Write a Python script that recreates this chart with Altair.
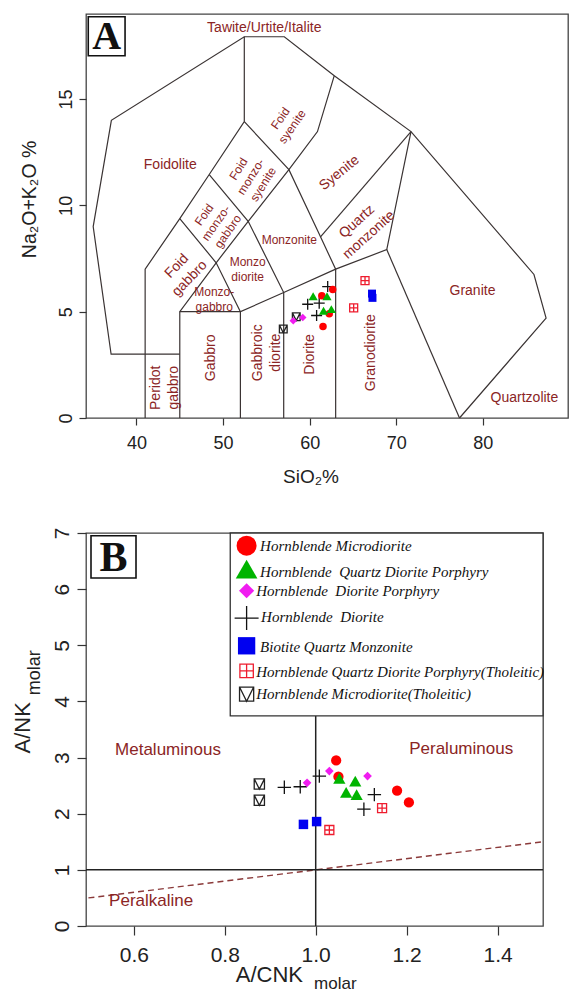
import altair as alt
import pandas as pd

# ---------------------------------------------------------------------------
# Panel A - TAS classification of plutonic rocks (SiO2 vs Na2O+K2O, wt.%)
# ---------------------------------------------------------------------------
SIO2_TICKS = [40, 50, 60, 70, 80, 90]
ALK_TICKS = [0, 5, 10, 15]

# field boundaries as (SiO2, Na2O+K2O) vertices
BND_OUTER = [(45, 3), (37.07, 3.0), (35.0, 9.0), (37.1, 14.0), (52.45, 17.93),
             (57.07, 17.93), (62.84, 16.1), (71.7, 13.47), (85.9, 6.75),
             (87.3, 4.7), (77.3, 0)]
BND_FOIDOLITE = [(41, 0), (41, 7), (45, 9.38), (48.4, 11.45), (52.45, 13.94),
                 (52.45, 17.93)]
BND_FOID_SYENITE = [(45, 0), (45, 5), (49.2, 7.3), (52.9, 9.25), (57.6, 11.68),
                    (60.9, 13.47), (62.84, 16.1)]
BND_GABBRO = [(45, 5), (52, 5)]
BND_DIORITE_TOP = [(52, 0), (52, 5), (57, 5.9), (63, 7), (68.9, 7.92),
                   (71.7, 13.47)]
BND_MONZODIORITE = [(57, 0), (57, 5.9), (52.9, 9.25), (48.4, 11.45)]
BND_MONZOGABBRO = [(45, 9.38), (49.2, 7.3), (52, 5)]
BND_MONZONITE = [(52.45, 13.94), (57.6, 11.68), (61.25, 8.52), (63, 7), (63, 0)]
BND_QTZ_MONZONITE = [(71.7, 13.47), (61.25, 8.52)]
BND_GRANODIORITE = [(68.9, 7.92), (77.3, 0)]

TAS_BOUNDARIES = [BND_OUTER, BND_FOIDOLITE, BND_FOID_SYENITE, BND_GABBRO,
                  BND_DIORITE_TOP, BND_MONZODIORITE, BND_MONZOGABBRO,
                  BND_MONZONITE, BND_QTZ_MONZONITE, BND_GRANODIORITE]

FIELD_NAMES = ["Tawite/Urtite/Italite", "Foidolite", "Foid\nsyenite",
               "Foid\nmonzo-\nsyenite", "Syenite", "Foid\nmonzo-\ngabbro",
               "Foid\ngabbro", "Monzonite", "Monzo\ndiorite", "Monzo-\ngabbro",
               "Quartz\nmonzonite", "Peridot\ngabbro", "Gabbro",
               "Gabbroic\ndiorite", "Diorite", "Granodiorite", "Granite",
               "Quartzolite"]

# sample compositions (SiO2, Na2O+K2O)
TAS_HBL_MICRODIORITE = [(62.66, 6.04), (61.4, 5.75), (62.26, 4.9), (61.54, 4.3)]
TAS_HBL_QTZ_DIORITE_PORPH = [(60.4, 5.73), (62.0, 5.73), (61.6, 5.04), (62.5, 5.12)]
TAS_HBL_DIORITE_PORPH = [(58.1, 4.57), (59.2, 4.73)]
TAS_HBL_DIORITE = [(62.08, 6.18), (59.77, 5.35), (61.1, 5.4), (60.8, 4.82)]
TAS_BIO_QTZ_MONZONITE = [(67.2, 5.85), (67.25, 5.65)]
TAS_HBL_QDP_THOLEIITIC = [(66.39, 6.46), (65.08, 5.18)]
TAS_HBL_MICRODIORITE_THOLEIITIC = [(56.95, 4.19), (58.45, 4.76)]

# ---------------------------------------------------------------------------
# Panel B - Shand index (A/CNK vs A/NK, molar)
# ---------------------------------------------------------------------------
ACNK_TICKS = [0.6, 0.8, 1.0, 1.2, 1.4]
ANK_TICKS = [0, 1, 2, 3, 4, 5, 6, 7]

SHAND_HBL_MICRODIORITE = [(1.045, 2.95), (1.05, 2.66), (1.179, 2.41), (1.205, 2.2)]
SHAND_HBL_QTZ_DIORITE_PORPH = [(1.052, 2.63), (1.087, 2.58), (1.067, 2.38), (1.09, 2.34)]
SHAND_HBL_DIORITE_PORPH = [(0.981, 2.55), (1.030, 2.76), (1.114, 2.67)]
SHAND_HBL_DIORITE = [(0.931, 2.47), (0.966, 2.48), (1.008, 2.67), (1.129, 2.34), (1.106, 2.08)]
SHAND_BIO_QTZ_MONZONITE = [(0.973, 1.81), (1.002, 1.86)]
SHAND_HBL_QDP_THOLEIITIC = [(1.146, 2.10), (1.030, 1.71)]
SHAND_HBL_MICRODIORITE_THOLEIITIC = [(0.876, 2.53), (0.876, 2.24)]

SHAND_DIVIDE = [(0.5, 0.5), (1.5, 1.5)]        # peralkaline / metaluminous trend
REGION_NAMES = ["Metaluminous", "Peraluminous", "Peralkaline"]

SERIES = ["Hornblende Microdiorite",
          "Hornblende\u00a0 Quartz Diorite Porphyry",
          "Hornblende\u00a0 Diorite Porphyry",
          "Hornblende\u00a0 Diorite",
          "Biotite Quartz Monzonite",
          "Hornblende Quartz Diorite Porphyry(Tholeitic)",
          "Hornblende Microdiorite(Tholeitic)"]

TAS_SAMPLES = [TAS_HBL_MICRODIORITE, TAS_HBL_QTZ_DIORITE_PORPH,
               TAS_HBL_DIORITE_PORPH, TAS_HBL_DIORITE, TAS_BIO_QTZ_MONZONITE,
               TAS_HBL_QDP_THOLEIITIC, TAS_HBL_MICRODIORITE_THOLEIITIC]
SHAND_SAMPLES = [SHAND_HBL_MICRODIORITE, SHAND_HBL_QTZ_DIORITE_PORPH,
                 SHAND_HBL_DIORITE_PORPH, SHAND_HBL_DIORITE,
                 SHAND_BIO_QTZ_MONZONITE, SHAND_HBL_QDP_THOLEIITIC,
                 SHAND_HBL_MICRODIORITE_THOLEIITIC]

# ---------------------------------------------------------------------------
# styling and layout
# ---------------------------------------------------------------------------
SANS = "Liberation Sans"
SERIF = "Liberation Serif"
FIELD_RED = "#8B2525"
LINE_COL = "#3a3333"

PLUS = "M-1,0H1M0,-1V1"
GRID_BOX = "M-1,-1H1V1H-1Z M0,-1V1 M-1,0H1"
VEE_BOX = "M-1,-1H1V1H-1Z M-1,-1L0,1L1,-1"

# per series: shape, colour, filled, size in A, size in B, size in legend
SYMBOLS = [("circle", "#FF0000", True, 56, 105, 400),
           ("triangle-up", "#00B400", True, 85, 150, 470),
           ("diamond", "#F01CF0", True, 56, 75, 230),
           (PLUS, "#111111", False, 121, 180, 576),
           ("square", "#0000F0", True, 64, 90, 300),
           (GRID_BOX, "#EE1C2E", False, 64, 81, 180),
           (VEE_BOX, "#222222", False, 60, 105, 200)]

# field-label anchors (block centres), rotation and size class
FIELD_POS = [(54.76, 18.36), (43.9, 11.88), (57.3, 13.9), (53.2, 11.35),
             (63.42, 11.52), (49.18, 9.17), (45.4, 6.85), (57.65, 8.39),
             (52.84, 6.98), (48.98, 5.57), (66.15, 8.92), (43.3, 1.42),
             (48.6, 2.83), (55.1, 3.07), (60.07, 2.99), (67.1, 3.07),
             (78.8, 5.96), (84.8, 0.95)]
FIELD_ANGLE = [0, 0, 305, 302, 321, 305, 314, 0, 0, 0, 318, 270, 270, 270,
               270, 270, 0, 0]
FIELD_BIG = [True, True, False, False, True, False, True, False, False, False,
             True, True, True, True, True, True, True, True]

REGION_POS = [(0.675, 3.14), (1.32, 3.155), (0.638, 0.446)]

LEG_BOX = (0.812, 1.5, 3.743, 7.0)
LEG_SYM_X = 0.848
LEG_SYM_Y = [6.774, 6.358, 5.971, 5.484, 4.991, 4.545, 4.130]
LEG_TXT_X = [0.8776, 0.8776, 0.8690, 0.8798, 0.8776, 0.8690, 0.8690]
LEG_TXT_Y = [6.774, 6.298, 5.971, 5.496, 4.961, 4.533, 4.130]


def polylines(lines):
    rows = []
    for k, pts in enumerate(lines):
        for i, (x, y) in enumerate(pts):
            rows.append({"line": k, "i": i, "x": x, "y": y})
    return pd.DataFrame(rows)


def samples(groups, size_idx):
    rows = []
    for k, pts in enumerate(groups):
        shape, color, filled, *sizes = SYMBOLS[k]
        for x, y in pts:
            rows.append({"series": SERIES[k], "x": x, "y": y, "shape": shape,
                         "color": color, "filled": filled,
                         "size": sizes[size_idx]})
    return pd.DataFrame(rows)


def axis(values, size, pad, tick, vertical=False, fmt=None):
    kw = dict(values=values, title=None, grid=False, domain=False,
              tickSize=tick, tickWidth=1.2, tickColor="#333333",
              labelFont=SANS, labelFontSize=size, labelColor="#222222",
              labelPadding=pad, labelFlush=False, labelOverlap=False)
    if vertical:
        kw.update(labelAngle=270, labelAlign="center", labelBaseline="bottom")
    if fmt:
        kw["format"] = fmt
    return alt.Axis(**kw)


def point_layers(df, X, Y):
    filled = alt.Chart(df[df["filled"]]).mark_point(
        filled=True, opacity=1, strokeWidth=0).encode(
        x=X, y=Y,
        shape=alt.Shape("shape:N", scale=None),
        color=alt.Color("color:N", scale=None),
        size=alt.Size("size:Q", scale=None))
    hollow = alt.Chart(df[~df["filled"]]).mark_point(
        filled=False, opacity=1, strokeWidth=1.3).encode(
        x=X, y=Y,
        shape=alt.Shape("shape:N", scale=None),
        color=alt.Color("color:N", scale=None),
        size=alt.Size("size:Q", scale=None))
    return [hollow, filled]


def text_df(texts, pos, **extra):
    d = {"t": texts, "x": [p[0] for p in pos], "y": [p[1] for p in pos]}
    d.update(extra)
    return pd.DataFrame(d)


# ------------------------------- panel A -----------------------------------
scA_x = alt.Scale(domain=[34.17, 89.83], nice=False, zero=False)
scA_y = alt.Scale(domain=[0, 19], nice=False, zero=False)
XA = alt.X("x:Q", scale=scA_x, axis=axis(SIO2_TICKS, 18, 9, 7))
YA = alt.Y("y:Q", scale=scA_y, axis=axis(ALK_TICKS, 18, 4, 7, vertical=True))
XA2 = alt.X2("x2:Q")
YA2 = alt.Y2("y2:Q")

linesA = alt.Chart(polylines(TAS_BOUNDARIES)).mark_line(
    color=LINE_COL, strokeWidth=1.2).encode(
    x=XA, y=YA, detail="line:N", order="i:Q")

fields = text_df(FIELD_NAMES, FIELD_POS, ang=FIELD_ANGLE, big=FIELD_BIG,
                 n=[s.count("\n") + 1 for s in FIELD_NAMES])


def field_labels():
    """One text layer per size class and line count, so every block is centred."""
    layers = []
    for big, fs, lh in [(True, 14, 18), (False, 12, 14.5)]:
        for n in (1, 2, 3):
            sub = fields[(fields["big"] == big) & (fields["n"] == n)]
            if sub.empty:
                continue
            layers.append(alt.Chart(sub).mark_text(
                font=SANS, fontSize=fs, color=FIELD_RED, lineBreak="\n",
                lineHeight=lh, align="center", baseline="middle",
                dy=-(n - 1) * lh / 2).encode(
                x=XA, y=YA, text="t:N", angle=alt.Angle("ang:Q", scale=None)))
    return layers


boxA = alt.Chart(pd.DataFrame({"x": [34.43], "x2": [38.68], "y": [17.04], "y2": [18.87]})
                 ).mark_rect(fill="white", stroke="#111", strokeWidth=1.6).encode(
    x=XA, x2=XA2, y=YA, y2=YA2)
letterA = alt.Chart(text_df(["A"], [(36.55, 17.92)])).mark_text(
    font=SERIF, fontSize=40, fontWeight="bold", color="#111",
    baseline="middle").encode(x=XA, y=YA, text="t:N")

titleA_x = alt.Chart(text_df(["SiO\u2082%"], [(60.15, -2.77)])).mark_text(
    font=SANS, fontSize=19, color="#222", baseline="middle").encode(
    x=XA, y=YA, text="t:N")
titleA_y = alt.Chart(text_df(["Na\u2082O+K\u2082O %"], [(27.7, 10.28)])).mark_text(
    font=SANS, fontSize=19.5, color="#222", angle=270, baseline="middle").encode(
    x=XA, y=YA, text="t:N")

chartA = alt.layer(
    linesA, *field_labels(),
    *point_layers(samples(TAS_SAMPLES, 0), XA, YA),
    boxA, letterA, titleA_x, titleA_y,
).properties(width=482, height=404)

# ------------------------------- panel B -----------------------------------
scB_x = alt.Scale(domain=[0.4947, 1.5], nice=False, zero=False)
scB_y = alt.Scale(domain=[0, 7], nice=False, zero=False)
XB = alt.X("x:Q", scale=scB_x, axis=axis(ACNK_TICKS, 21, 9, 9, fmt=".1f"))
YB = alt.Y("y:Q", scale=scB_y, axis=axis(ANK_TICKS, 21, 5, 9, vertical=True))
XB2 = alt.X2("x2:Q")
YB2 = alt.Y2("y2:Q")

divide = alt.Chart(pd.DataFrame({"x": [p[0] for p in SHAND_DIVIDE],
                                 "y": [p[1] for p in SHAND_DIVIDE]})).mark_line(
    color="#8B3A3A", strokeWidth=1.4, strokeDash=[6, 4]).encode(x=XB, y=YB)
hline = alt.Chart(pd.DataFrame({"x": [0.4947], "x2": [1.5], "y": [1.0]})).mark_rule(
    color="#222", strokeWidth=1.5).encode(x=XB, x2=XB2, y=YB)
vline = alt.Chart(pd.DataFrame({"x": [1.0], "y": [0.0], "y2": [LEG_BOX[2]]})).mark_rule(
    color="#222", strokeWidth=1.5).encode(x=XB, y=YB, y2=YB2)

regions = alt.Chart(text_df(REGION_NAMES, REGION_POS)).mark_text(
    font=SANS, fontSize=17, color=FIELD_RED, baseline="middle").encode(
    x=XB, y=YB, text="t:N")

legbox = alt.Chart(pd.DataFrame({"x": [LEG_BOX[0]], "x2": [LEG_BOX[1]],
                                 "y": [LEG_BOX[2]], "y2": [LEG_BOX[3]]})).mark_rect(
    fill="white", stroke="#333", strokeWidth=1.3).encode(x=XB, x2=XB2, y=YB, y2=YB2)

leg_sym = pd.DataFrame({
    "series": SERIES, "x": LEG_SYM_X, "y": LEG_SYM_Y,
    "shape": [s[0] for s in SYMBOLS], "color": [s[1] for s in SYMBOLS],
    "filled": [s[2] for s in SYMBOLS], "size": [s[5] for s in SYMBOLS]})
leg_txt = alt.Chart(pd.DataFrame({"t": SERIES, "x": LEG_TXT_X, "y": LEG_TXT_Y})).mark_text(
    font=SERIF, fontSize=15, fontStyle="italic", color="#111", align="left",
    baseline="middle").encode(x=XB, y=YB, text="t:N")

boxB = alt.Chart(pd.DataFrame({"x": [0.5057], "x2": [0.6047], "y": [6.198], "y2": [6.95]})
                 ).mark_rect(fill="white", stroke="#111", strokeWidth=1.6).encode(
    x=XB, x2=XB2, y=YB, y2=YB2)
letterB = alt.Chart(text_df(["B"], [(0.5552, 6.56)])).mark_text(
    font=SERIF, fontSize=42, fontWeight="bold", color="#111",
    baseline="middle").encode(x=XB, y=YB, text="t:N")

titleB_x1 = alt.Chart(text_df(["A/CNK"], [(0.898, -0.87)])).mark_text(
    font=SANS, fontSize=22, color="#222", baseline="middle").encode(
    x=XB, y=YB, text="t:N")
titleB_x2 = alt.Chart(text_df(["molar"], [(0.9964, -1.04)])).mark_text(
    font=SANS, fontSize=17, color="#222", baseline="middle", align="left").encode(
    x=XB, y=YB, text="t:N")
titleB_y1 = alt.Chart(text_df(["A/NK"], [(0.356, 3.53)])).mark_text(
    font=SANS, fontSize=22, color="#222", baseline="middle", angle=270).encode(
    x=XB, y=YB, text="t:N")
titleB_y2 = alt.Chart(text_df(["molar"], [(0.3825, 4.51)])).mark_text(
    font=SANS, fontSize=18, color="#222", baseline="middle", angle=270).encode(
    x=XB, y=YB, text="t:N")

chartB = alt.layer(
    divide, hline, vline, regions,
    *point_layers(samples(SHAND_SAMPLES, 1), XB, YB),
    legbox, *point_layers(leg_sym, XB, YB), leg_txt,
    boxB, letterB, titleB_x1, titleB_x2, titleB_y1, titleB_y2,
).properties(width=457, height=393)

chart = alt.vconcat(chartA, chartB, spacing=115, bounds="flush").properties(
    padding={"left": 11, "top": 13, "right": 0, "bottom": 0}
).configure_view(stroke="#444444", strokeWidth=1.3)

chart.save("out.html", embed_options={"renderer": "svg", "actions": False})
